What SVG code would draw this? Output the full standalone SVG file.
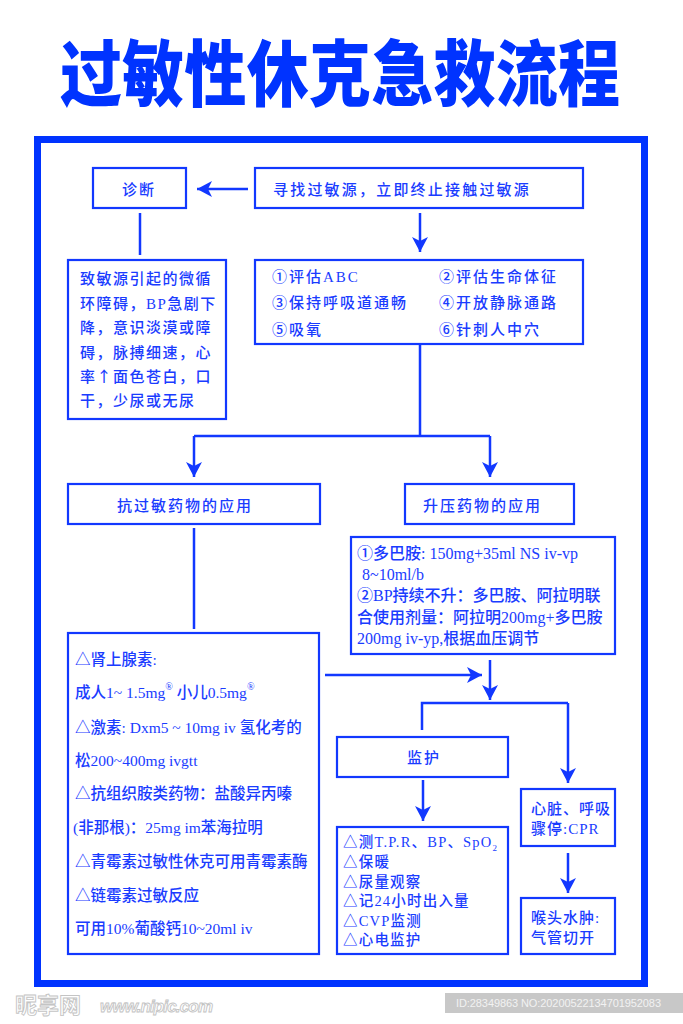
<svg xmlns="http://www.w3.org/2000/svg" width="683" height="1024" viewBox="0 0 683 1024">
<style>
.box{fill:#fff;stroke:#1238ff;stroke-width:2.2}
.ln{fill:none;stroke:#1238ff;stroke-width:2.5}
.t{font-family:'Liberation Serif','Noto Sans CJK SC',serif;font-size:15px;fill:#1a3cff;letter-spacing:1.5px;font-weight:500}
.s{font-family:'Liberation Serif','Noto Sans CJK SC',serif;font-size:16px;fill:#1a3cff;font-weight:500}
.h{letter-spacing:2px}
</style>
<defs>
<marker id="ah" markerUnits="userSpaceOnUse" markerWidth="16" markerHeight="16" refX="15" refY="8" orient="auto">
<path d="M0,0 L15,8 L0,16 L4,8 Z" fill="#1238ff"/>
</marker>
</defs>
<rect width="683" height="1024" fill="#fff"/>
<g id="title">
<text transform="translate(60,100) scale(1,1.15)" font-family="'Noto Sans CJK SC',sans-serif" font-weight="900" font-size="62" fill="#0033ff" textLength="560" lengthAdjust="spacing">过敏性休克急救流程</text>
</g>
<rect id="frame" x="37.5" y="139.5" width="607" height="844" fill="none" stroke="#0033ff" stroke-width="7"/>
<g id="connectors">
<path class="ln" d="M248,189 H197" marker-end="url(#ah)"/>
<path class="ln" d="M140,213 V255"/>
<path class="ln" d="M420,213 V252" marker-end="url(#ah)"/>
<path class="ln" d="M420,344 V436 M194,436 H490"/>
<path class="ln" d="M194,436 V477" marker-end="url(#ah)"/>
<path class="ln" d="M490,436 V477" marker-end="url(#ah)"/>
<path class="ln" d="M194,528 V629"/>
<path class="ln" d="M325,675 H482" marker-end="url(#ah)"/>
<path class="ln" d="M490,660 V700" marker-end="url(#ah)"/>
<path class="ln" d="M422,730 V703 H568"/>
<path class="ln" d="M568,703 V783" marker-end="url(#ah)"/>
<path class="ln" d="M423,780 V821" marker-end="url(#ah)"/>
<path class="ln" d="M568,853 V893" marker-end="url(#ah)"/>
</g>
<g id="diagnosis">
<rect class="box" x="93" y="168" width="93" height="40"/>
<text class="t h" x="122" y="195">诊断</text>
</g>
<g id="find-source">
<rect class="box" x="255" y="168" width="328" height="40"/>
<text class="t" x="273" y="195" style="letter-spacing:2.2px">寻找过敏源，立即终止接触过敏源</text>
</g>
<g id="symptoms">
<rect class="box" x="68" y="260" width="158" height="159"/>
<text class="t" x="80" y="283.5">致敏源引起的微循</text>
<text class="t" x="80" y="308.5">环障碍，BP急剧下</text>
<text class="t" x="80" y="332.5">降，意识淡漠或障</text>
<text class="t" x="80" y="357.5">碍，脉搏细速，心</text>
<text class="t" x="80" y="381.5">率<tspan font-family="'Noto Sans CJK SC',sans-serif">↑</tspan>面色苍白，口</text>
<text class="t" x="80" y="405.5">干，少尿或无尿</text>
</g>
<g id="assess">
<rect class="box" x="255" y="260" width="328" height="84"/>
<text class="t h" x="272" y="281.5">①评估ABC</text>
<text class="t h" x="439" y="281.5">②评估生命体征</text>
<text class="t h" x="272" y="307.5">③保持呼吸道通畅</text>
<text class="t h" x="439" y="307.5">④开放静脉通路</text>
<text class="t h" x="272" y="334.5">⑤吸氧</text>
<text class="t h" x="439" y="334.5">⑥针刺人中穴</text>
</g>
<g id="anti-allergy">
<rect class="box" x="68" y="484" width="252" height="40"/>
<text class="t h" x="117" y="510.5">抗过敏药物的应用</text>
</g>
<g id="vasopressor">
<rect class="box" x="405" y="484" width="169" height="40"/>
<text class="t h" x="423" y="510.5">升压药物的应用</text>
</g>
<g id="dopamine">
<rect class="box" x="351" y="537" width="264" height="117"/>
<text class="s" x="357" y="558.5">①多巴胺: 150mg+35ml NS iv-vp</text>
<text class="s" x="362" y="579.5">8~10ml/b</text>
<text class="s" x="357" y="600.5">②BP持续不升：多巴胺、阿拉明联</text>
<text class="s" x="357" y="622.5">合使用剂量：阿拉明200mg+多巴胺</text>
<text class="s" x="357" y="643.5">200mg iv-yp,根据血压调节</text>
</g>
<g id="drugs">
<rect class="box" x="68" y="633" width="251" height="321"/>
<text class="s" x="75" y="665" style="font-size:15.5px">△肾上腺素:</text>
<text class="s" x="75" y="698" style="font-size:15.5px">成人1~ 1.5mg<tspan font-size="10" dy="-8">®</tspan><tspan dy="8"> 小儿0.5mg</tspan><tspan font-size="10" dy="-8">®</tspan></text>
<text class="s" x="75" y="733" style="font-size:15.5px">△激素: Dxm5 ~ 10mg iv 氢化考的</text>
<text class="s" x="75" y="766" style="font-size:15.5px">松200~400mg ivgtt</text>
<text class="s" x="75" y="799" style="font-size:15.5px">△抗组织胺类药物：盐酸异丙嗪</text>
<text class="s" x="73" y="833" style="font-size:15.5px">(非那根)：25mg im苯海拉明</text>
<text class="s" x="75" y="867" style="font-size:15.5px">△青霉素过敏性休克可用青霉素酶</text>
<text class="s" x="75" y="901" style="font-size:15.5px">△链霉素过敏反应</text>
<text class="s" x="75" y="934" style="font-size:15.5px">可用10%葡酸钙10~20ml iv</text>
</g>
<g id="monitor">
<rect class="box" x="337" y="737" width="171" height="40"/>
<text class="t h" x="407" y="762.5">监护</text>
</g>
<g id="monitor-items">
<rect class="box" x="337" y="827" width="171" height="127"/>
<text class="t" x="343" y="847" style="font-size:14.5px;letter-spacing:1.2px">△测T.P.R、BP、SpO<tspan font-size="9" dy="4">2</tspan></text>
<text class="t" x="343" y="867" style="font-size:14.5px;letter-spacing:1.2px">△保暖</text>
<text class="t" x="343" y="886.5" style="font-size:14.5px;letter-spacing:1.2px">△尿量观察</text>
<text class="t" x="343" y="906" style="font-size:14.5px;letter-spacing:1.2px">△记24小时出入量</text>
<text class="t" x="343" y="925.5" style="font-size:14.5px;letter-spacing:1.2px">△CVP监测</text>
<text class="t" x="343" y="945" style="font-size:14.5px;letter-spacing:1.2px">△心电监护</text>
</g>
<g id="cpr">
<rect class="box" x="521" y="789" width="94" height="57"/>
<text class="t" x="531" y="813.5" style="letter-spacing:1px">心脏、呼吸</text>
<text class="t" x="531" y="834" style="letter-spacing:1px">骤停:CPR</text>
</g>
<g id="larynx">
<rect class="box" x="521" y="898" width="94" height="56"/>
<text class="t" x="531" y="922.5" style="letter-spacing:1px">喉头水肿:</text>
<text class="t" x="531" y="942.5" style="letter-spacing:1px">气管切开</text>
</g>
<g id="watermark">
<text x="15" y="1013" font-family="'Noto Sans CJK SC',sans-serif" font-size="22" font-weight="700" fill="#fff" stroke="#c4c4c4" stroke-width="0.9">昵享网</text>
<text x="100" y="1012" font-family="'Liberation Sans',sans-serif" font-size="17" font-weight="700" font-style="italic" fill="#fff" stroke="#c4c4c4" stroke-width="0.9" textLength="113">www.nipic.com</text>
<rect x="445" y="993" width="238" height="20" fill="#c8c8c8"/>
<text x="456" y="1007" font-family="'Liberation Sans',sans-serif" font-size="11" fill="#f2f2f2" textLength="205">ID:28349863 NO:20200522134701952083</text>
</g>
</svg>
